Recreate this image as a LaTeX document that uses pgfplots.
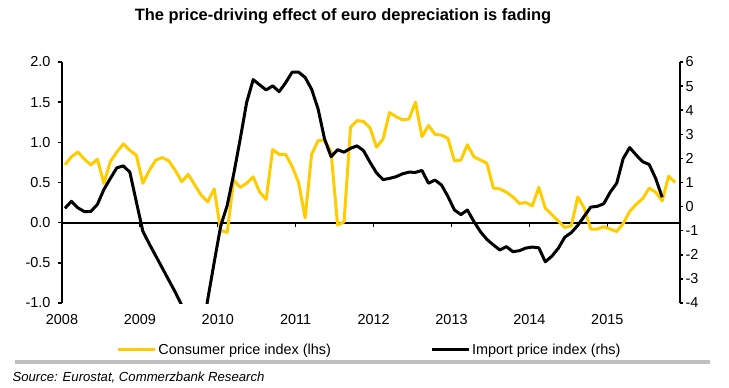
\documentclass[border=0pt]{standalone}
\usepackage{pgfplots}
\usepackage{pgfplotstable}
\pgfplotsset{compat=1.18}
\usepackage{fontspec}
\setmainfont{Liberation Sans}
\definecolor{cbyellow}{RGB}{255,204,0}
\definecolor{bargray}{RGB}{191,191,191}

\pgfplotstableread{
m v
0 0.72
1 0.82
2 0.88
3 0.79
4 0.72
5 0.79
6 0.49
7 0.76
8 0.88
9 0.98
10 0.90
11 0.84
12 0.49
13 0.65
14 0.78
15 0.81
16 0.77
17 0.65
18 0.51
19 0.60
20 0.47
21 0.34
22 0.26
23 0.42
24 -0.10
25 -0.12
26 0.53
27 0.44
28 0.49
29 0.57
30 0.38
31 0.29
32 0.91
33 0.85
34 0.85
35 0.70
36 0.50
37 0.06
38 0.85
39 1.02
40 1.03
41 0.88
42 -0.03
43 0.01
44 1.19
45 1.27
46 1.26
47 1.18
48 0.94
49 1.04
50 1.37
51 1.32
52 1.28
53 1.29
54 1.50
55 1.07
56 1.21
57 1.10
58 1.09
59 1.05
60 0.77
61 0.78
62 0.97
63 0.82
64 0.78
65 0.74
66 0.43
67 0.42
68 0.38
69 0.32
70 0.24
71 0.25
72 0.21
73 0.44
74 0.18
75 0.10
76 0.02
77 -0.06
78 -0.04
79 0.32
80 0.18
81 -0.08
82 -0.08
83 -0.05
84 -0.08
85 -0.11
86 -0.01
87 0.14
88 0.23
89 0.30
90 0.43
91 0.38
92 0.27
93 0.58
94 0.50
}\cpi

\pgfplotstableread{
m v
0 -0.07
1 0.22
2 -0.05
3 -0.21
4 -0.20
5 0.09
6 0.71
7 1.17
8 1.61
9 1.69
10 1.43
11 0.20
12 -1.02
13 -1.55
14 -2.05
15 -2.55
16 -3.05
17 -3.55
18 -4.10
19 -4.70
20 -5.20
21 -5.50
22 -3.85
23 -2.30
24 -0.80
25 0.05
26 1.35
27 2.80
28 4.33
29 5.27
30 5.05
31 4.84
32 5.01
33 4.77
34 5.14
35 5.58
36 5.58
37 5.36
38 4.87
39 4.05
40 2.80
41 2.07
42 2.36
43 2.26
44 2.42
45 2.52
46 2.32
47 1.84
48 1.40
49 1.12
50 1.17
51 1.24
52 1.36
53 1.43
54 1.42
55 1.50
56 0.97
57 1.10
58 0.90
59 0.42
60 -0.14
61 -0.33
62 -0.14
63 -0.62
64 -1.04
65 -1.36
66 -1.59
67 -1.80
68 -1.66
69 -1.87
70 -1.83
71 -1.72
72 -1.68
73 -1.71
74 -2.29
75 -2.06
76 -1.73
77 -1.27
78 -1.08
79 -0.78
80 -0.40
81 -0.02
82 0.01
83 0.12
84 0.60
85 0.97
86 2.00
87 2.45
88 2.14
89 1.86
90 1.75
91 1.17
92 0.39
}\imp

\begin{document}
\begin{tikzpicture}[x=1bp,y=1bp]
\useasboundingbox (0,0) rectangle (729,387);
\node[font=\bfseries\fontsize{16.5}{19}\selectfont] at (343,371) {The price-driving effect of euro depreciation is fading};

\begin{axis}[
  at={(62bp,84bp)}, anchor=south west,
  scale only axis, width=618bp, height=241bp,
  xmin=0, xmax=95.2, ymin=-1, ymax=2,
  axis y line*=left, axis x line*=bottom,
  x axis line style={draw=none},
  xtick={0,12,24,36,48,60,72,84},
  xticklabels={2008,2009,2010,2011,2012,2013,2014,2015},
  major x tick style={draw=none},
  ytick={-1,-0.5,0,0.5,1,1.5,2},
  yticklabels={-1.0,-0.5,0.0,0.5,1.0,1.5,2.0},
  y axis line style={line width=1.8bp, -},
  major y tick style={line width=1.5bp, black},
  tick align=outside, major tick length=4bp,
  ticklabel style={font=\fontsize{14.5}{17}\selectfont},
  yticklabel style={xshift=-4bp},
  xticklabel style={yshift=-4bp},
]
\addplot[black, line width=1.8bp, forget plot] coordinates {(0,0) (95.2,0)};
\pgfplotsinvokeforeach{12,24,36,48,60,72,84}{
  \draw[line width=1.2bp] (axis cs:#1,0) -- ([yshift=-4bp]axis cs:#1,0);
}
\addplot[cbyellow, line width=3bp, line join=round] table[x expr=\thisrow{m}+0.45, y=v] {\cpi};
\end{axis}

\begin{axis}[
  at={(62bp,84bp)}, anchor=south west,
  scale only axis, width=618bp, height=241bp,
  xmin=0, xmax=95.2, ymin=-4, ymax=6,
  axis y line*=right, axis x line=none,
  ytick={-4,-3,-2,-1,0,1,2,3,4,5,6},
  yticklabels={-4,-3,-2,-1,0,1,2,3,4,5,6},
  y axis line style={line width=1.8bp, -},
  major y tick style={line width=1.5bp, black},
  tick align=outside, major tick length=3bp,
  ticklabel style={font=\fontsize{14.5}{17}\selectfont},
  yticklabel style={xshift=-1bp},
  legend columns=2,
  legend style={at={(0.4975,-0.195)}, anchor=center, draw=none, fill=none,
    font=\fontsize{14.5}{17}\selectfont,
    /tikz/every even column/.append style={column sep=97bp}},
  legend image code/.code={\draw[#1] (0bp,0bp) -- (37bp,0bp);},
]
\addlegendimage{cbyellow, line width=3bp}
\addlegendentry{Consumer price index (lhs)}
\addplot[black, line width=3bp, line join=round] table[x expr=\thisrow{m}+0.45, y=v] {\imp};
\addlegendentry{Import price index (rhs)}
\end{axis}

\fill[bargray] (15,23) rectangle (710,27);
\node[anchor=west, font=\itshape\fontsize{13.2}{15}\selectfont] at (9,9) {Source: Eurostat, Commerzbank Research};
\end{tikzpicture}
\end{document}
